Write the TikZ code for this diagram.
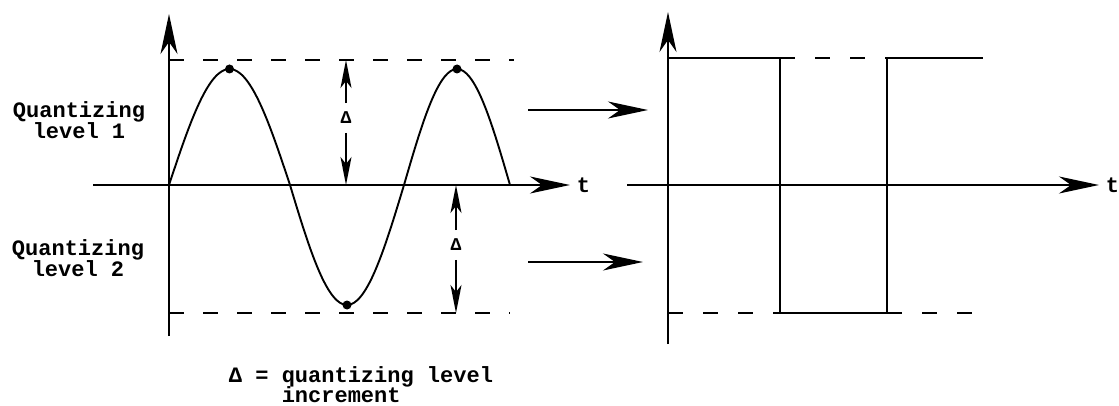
\documentclass[tikz,border=0pt]{standalone}
\usepackage{fontspec}
\setmonofont{Liberation Mono}
\usetikzlibrary{arrows.meta}

\begin{document}
\begin{tikzpicture}[x=1pt,y=-1pt,>={Stealth[length=40pt,width=17pt,inset=12pt]},line width=1.9pt,
  lbl/.style={font=\ttfamily\bfseries\fontsize{22}{18}\selectfont,inner sep=0pt,align=center},
  dlbl/.style={font=\ttfamily\bfseries\fontsize{18}{18}\selectfont,inner sep=0pt,outer sep=9pt},
  dimtip/.style={-{Stealth[length=28pt,width=11pt,inset=7pt]}},
  dashed15/.style={dash pattern=on 15pt off 19pt}]
  \def\Y{185}    % time axis
  \def\Hi{60}    % level 1
  \def\Lo{313}   % level 2
  \def\R{4.5}    % peak dot radius
  \useasboundingbox (0,0) rectangle (1119,406);

  % ================= left: input sine =================
  \draw[->] (169,336) -- (169,14);
  \draw[->] (93,\Y) -- (570,\Y);
  \node[lbl,anchor=west] (tl) at (576,\Y) {t};
  \draw[dashed15] (169,\Hi) -- (514,\Hi);
  \draw[dashed15] (169,\Lo) -- (510,\Lo);
  \draw plot[domain=0:180,samples=40,smooth] ({169+\x/180*121},{\Y-116*sin(\x)});
  \draw plot[domain=0:180,samples=40,smooth] ({290+\x/180*114},{\Y+120*sin(\x)});
  \draw plot[domain=0:180,samples=40,smooth] ({404+\x/180*106},{\Y-116*sin(\x)});
  \fill (229.5,\Y-116) circle (\R);
  \fill (347,\Y+120) circle (\R);
  \fill (457,\Y-116) circle (\R);
  \node[lbl] (q1) at (79,120) {Quantizing\\level 1};
  \node[lbl] (q2) at (78,258) {Quantizing\\level 2};

  % quantizing increments
  \node[dlbl] (d1) at (346,118) {Δ};
  \coordinate (d1t) at (346,\Hi);
  \coordinate (d1b) at (346,\Y);
  \draw[dimtip] (d1.north) -- (d1t);
  \draw[dimtip] (d1.south) -- (d1b);
  \node[dlbl] (d2) at (456,245) {Δ};
  \coordinate (d2t) at (456,\Y);
  \coordinate (d2b) at (456,\Lo);
  \draw[dimtip] (d2.north) -- (d2t);
  \draw[dimtip] (d2.south) -- (d2b);

  % ================= mapping arrows =================
  \coordinate (m1a) at (528,110);
  \coordinate (m1b) at (648,110);
  \coordinate (m2a) at (528,262);
  \coordinate (m2b) at (643,262);
  \draw[->] (m1a) -- (m1b);
  \draw[->] (m2a) -- (m2b);

  % ================= right: quantized output =================
  \draw[->] (668,344) -- (668,12);
  \draw[->] (627,\Y) -- (1099,\Y);
  \node[lbl,anchor=west] (tr) at (1105,\Y) {t};
  \draw (668,58) -- (780,58) -- (780,\Lo) -- (887,\Lo) -- (887,58) -- (983,58);
  \draw[dash pattern=on 15pt off 20pt] (780,58) -- (887,58);
  \draw[dash pattern=on 15pt off 20pt] (668,\Lo) -- (780,\Lo);
  \draw[dash pattern=on 15pt off 20pt] (887,\Lo) -- (987,\Lo);

  % ================= legend =================
  \node[lbl,anchor=base west] (note1) at (228,382) {Δ = quantizing level};
  \node[lbl,anchor=base west] (note2) at ([xshift=52.8pt,yshift=-20pt]note1.base west) {increment};
\end{tikzpicture}
\end{document}
